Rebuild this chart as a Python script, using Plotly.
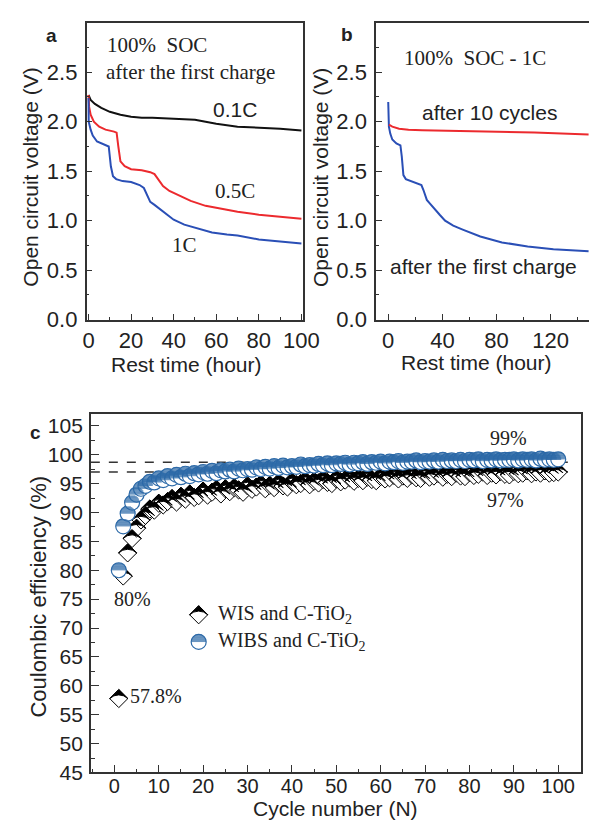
import math
import plotly.graph_objects as go

W, H = 598, 827

# ---------------- Panel a data (rest time in hours, OCV in V) ----------------
A_T_01C = [0, 1, 3, 6, 10, 15, 20, 25, 30, 40, 50, 55, 60, 70, 80, 90, 100]
A_V_01C = [2.27, 2.22, 2.18, 2.14, 2.10, 2.07, 2.05, 2.04, 2.04, 2.03, 2.02, 2.00, 1.98, 1.95, 1.94, 1.93, 1.91]

A_T_05C = [0, 0.3, 1, 2.5, 5, 8, 12, 13.2, 14, 15, 17, 20, 25, 29, 31, 33, 35, 38, 42, 48, 55, 62, 70, 80, 90, 100]
A_V_05C = [2.27, 2.15, 2.07, 2.00, 1.95, 1.92, 1.90, 1.89, 1.75, 1.60, 1.55, 1.52, 1.51, 1.49, 1.47, 1.41, 1.35,
           1.30, 1.26, 1.20, 1.15, 1.12, 1.09, 1.06, 1.04, 1.02]

A_T_1C = [0, 0.1, 1, 2, 4, 7, 9.5, 10.5, 11.5, 13, 16, 20, 24, 26, 27.5, 29, 31, 35, 40, 45, 50, 58, 65, 70, 80, 90, 100]
A_V_1C = [2.24, 2.00, 1.92, 1.86, 1.80, 1.77, 1.75, 1.55, 1.45, 1.42, 1.40, 1.39, 1.36, 1.33, 1.25, 1.19, 1.16,
          1.09, 1.01, 0.96, 0.93, 0.88, 0.86, 0.85, 0.81, 0.79, 0.77]

# ---------------- Panel b data ----------------
B_T_10CYC = [0.5, 3, 8, 15, 25, 60, 108, 148]
B_V_10CYC = [1.97, 1.95, 1.93, 1.92, 1.915, 1.905, 1.89, 1.87]

B_T_FIRST = [0, 0.5, 1.5, 3, 6, 9, 10, 11.2, 13, 17, 22, 24.5, 26, 28.5, 31, 34, 38, 42, 48, 55, 68, 84, 103, 122, 148]
B_V_FIRST = [2.20, 1.95, 1.88, 1.82, 1.78, 1.76, 1.65, 1.46, 1.42, 1.40, 1.38, 1.36, 1.31, 1.21, 1.17, 1.12, 1.06,
             1.00, 0.95, 0.91, 0.84, 0.78, 0.74, 0.71, 0.69]

# ---------------- Panel c data (coulombic efficiency, %) ----------------
CYCLES = list(range(1, 101))
CE_WIS = [57.8, 79.0, 83.0, 85.5, 87.3, 88.7, 89.5, 90.6, 90.4, 91.6,
          91.3, 91.9, 92.4, 91.8, 92.8, 92.3, 93.2, 92.6, 92.9, 93.7,
          93.0, 93.5, 94.0, 93.2, 94.1, 93.6, 94.3, 93.9, 93.5, 94.6,
          94.0, 94.4, 94.9, 94.1, 94.7, 94.3, 95.1, 94.6, 94.4, 95.3,
          94.8, 95.0, 95.5, 94.8, 95.4, 95.1, 95.7, 95.2, 95.0, 95.8,
          95.3, 95.6, 96.0, 95.4, 95.9, 95.5, 96.1, 95.7, 95.5, 96.2,
          95.8, 96.0, 96.4, 95.8, 96.3, 95.9, 96.5, 96.0, 95.9, 96.6,
          96.1, 96.3, 96.7, 96.1, 96.6, 96.2, 96.8, 96.3, 96.2, 96.9,
          96.4, 96.6, 97.0, 96.4, 96.8, 96.5, 97.1, 96.6, 96.5, 97.1,
          96.7, 96.8, 97.2, 96.7, 97.0, 96.8, 97.2, 96.8, 96.9, 97.0]
CE_WIBS = [80.0, 87.6, 89.8, 91.7, 93.1, 94.1, 94.6, 95.3, 95.2, 95.9,
           95.6, 96.3, 95.9, 96.5, 96.1, 96.7, 96.3, 96.8, 96.6, 97.0,
           96.7, 97.2, 96.8, 97.3, 97.1, 97.4, 97.1, 97.6, 97.3, 97.5,
           97.4, 97.8, 97.5, 97.9, 97.6, 98.0, 97.7, 98.1, 97.8, 98.0,
           97.9, 98.3, 98.0, 98.2, 98.1, 98.4, 98.2, 98.5, 98.2, 98.5,
           98.4, 98.6, 98.3, 98.6, 98.5, 98.7, 98.4, 98.7, 98.6, 98.8,
           98.5, 98.8, 98.7, 98.9, 98.6, 98.8, 98.8, 99.0, 98.7, 98.9,
           98.8, 99.0, 98.8, 99.1, 98.9, 99.0, 98.9, 99.1, 98.9, 99.1,
           99.0, 99.2, 98.9, 99.1, 99.0, 99.2, 99.0, 99.1, 99.1, 99.2,
           99.0, 99.2, 99.1, 99.2, 99.0, 99.3, 99.1, 99.2, 99.1, 99.2]
REF_LINES = [98.7, 97.0]  # dashed guide levels (%)

# ---------------- layout geometry (pixels) ----------------
def fx(px):
    return px / W

def fy(py):
    return 1 - py / H

A_X = [77.3, 301.7]
B_X = [377.3, 598.0]
AB_Y = [15.5, 316.6]
C_X = [81.7, 590.0]
C_Y = [412.7, 776.7]
C_YRANGE = [45, 107]

SANS = "Liberation Sans, Arial, Helvetica, sans-serif"
SERIF = "Liberation Serif, Times New Roman, serif"
FRAME = "#333333"
TXT = "#222222"
RED = "#ec2a2e"
BLUE_LINE = "#2a4fb6"
BLUE_MK = "#2d6aa8"

fig = go.Figure()

# ---- Panel a curves
fig.add_trace(go.Scatter(x=A_T_01C, y=A_V_01C, mode="lines", line=dict(color="#111111", width=2),
                         xaxis="x", yaxis="y", showlegend=False))
fig.add_trace(go.Scatter(x=A_T_05C, y=A_V_05C, mode="lines", line=dict(color=RED, width=2),
                         xaxis="x", yaxis="y", showlegend=False))
fig.add_trace(go.Scatter(x=A_T_1C, y=A_V_1C, mode="lines", line=dict(color=BLUE_LINE, width=2),
                         xaxis="x", yaxis="y", showlegend=False))
# ---- Panel b curves
fig.add_trace(go.Scatter(x=B_T_FIRST, y=B_V_FIRST, mode="lines", line=dict(color=BLUE_LINE, width=2),
                         xaxis="x2", yaxis="y2", showlegend=False))
fig.add_trace(go.Scatter(x=B_T_10CYC, y=B_V_10CYC, mode="lines", line=dict(color=RED, width=2),
                         xaxis="x2", yaxis="y2", showlegend=False))

# ---- Panel c : half-filled markers (open shape first, filled upper half on top)
PX_PER_UNIT_C = (C_Y[1] - C_Y[0]) / (C_YRANGE[1] - C_YRANGE[0])
DIAM_SIZE = 14
CIRC_SIZE = 15


def half_diamond_traces(xs, ys, size):
    rd = 0.65 * size                      # half-diagonal of plotly's diamond (px)
    tri_size = 1.41421 * rd               # arrow-wide whose 90deg head fills the top half
    shift = rd / PX_PER_UNIT_C            # head apex sits on the diamond's top vertex
    base = go.Scatter(x=list(xs), y=list(ys), mode="markers", xaxis="x3", yaxis="y3", showlegend=False,
                      hoverinfo="skip",
                      marker=dict(symbol="diamond", color="white", size=size,
                                  line=dict(color="black", width=1)))
    top = go.Scatter(x=list(xs), y=[v + shift for v in ys], mode="markers", xaxis="x3", yaxis="y3",
                     showlegend=False, hoverinfo="skip",
                     marker=dict(symbol="arrow-wide", color="black", size=tri_size,
                                 line=dict(color="black", width=1)))
    return [base, top]


def half_circle_traces(xs, ys, size, color):
    r = size / 2
    bands = [(0.0, 0.3), (0.3, 0.55), (0.55, 0.72), (0.72, 0.85), (0.85, 0.95)]
    base = go.Scatter(x=list(xs), y=list(ys), mode="markers", xaxis="x3", yaxis="y3", showlegend=False,
                      hoverinfo="skip",
                      marker=dict(symbol="circle", color="white", size=size,
                                  line=dict(color=color, width=1.2)))
    X, Y, lw, sz, so = [], [], [], [], []
    for x, y in zip(xs, ys):
        for b0, b1 in bands:
            bm = (b0 + b1) / 2
            half = r * math.sqrt(1 - bm * bm)
            X.append(x); Y.append(y)
            lw.append((b1 - b0) * r + 0.3)
            sz.append(2 * half / 1.4)
            so.append(bm * r)
    top = go.Scatter(x=X, y=Y, mode="markers", xaxis="x3", yaxis="y3", showlegend=False, hoverinfo="skip",
                     marker=dict(symbol="line-ew", color=color, size=sz, standoff=so, angle=180,
                                 line=dict(color=color, width=lw)))
    return [base, top]


for t in half_diamond_traces(CYCLES, CE_WIS, DIAM_SIZE):
    fig.add_trace(t)
for t in half_circle_traces(CYCLES, CE_WIBS, CIRC_SIZE, BLUE_MK):
    fig.add_trace(t)

# manual legend (position in axis units of panel c)
LEG_X = 19.0
LEG_Y = [72.3, 67.6]
for t in half_diamond_traces([LEG_X], [LEG_Y[0]], DIAM_SIZE):
    fig.add_trace(t)
for t in half_circle_traces([LEG_X], [LEG_Y[1]], CIRC_SIZE, BLUE_MK):
    fig.add_trace(t)

shapes = []
for lvl in REF_LINES:
    shapes.append(dict(type="line", xref="x3 domain", yref="y3", x0=0, x1=0.985, y0=lvl, y1=lvl,
                       line=dict(color="#333333", width=1.5, dash="dash"), layer="below"))

# ---------------- annotations ----------------
ann = []

def add_text(text, x, y, xref, yref, size, family, xanchor="center", yanchor="middle", angle=0, bold=False):
    t = f"<b>{text}</b>" if bold else text
    ann.append(dict(text=t, x=x, y=y, xref=xref, yref=yref, showarrow=False, textangle=angle,
                    font=dict(size=size, family=family, color=TXT), xanchor=xanchor, yanchor=yanchor))

# panel labels
add_text("a", fx(41), fy(28), "paper", "paper", 19, SANS, bold=True)
add_text("b", fx(347), fy(27), "paper", "paper", 19, SANS, bold=True)
add_text("c", fx(24), fy(431), "paper", "paper", 19, SANS, bold=True)

# axis titles
add_text("Open circuit voltage (V)", fx(19), fy(172), "paper", "paper", 21, SANS, angle=-90)
add_text("Rest time (hour)", fx(181), fy(362), "paper", "paper", 21, SANS)
add_text("Open circuit voltage (V)", fx(319), fy(172), "paper", "paper", 21, SANS, angle=-90)
add_text("Rest time (hour)", fx(481), fy(360), "paper", "paper", 21, SANS)
add_text("Coulombic efficiency (%)", fx(28), fy(598), "paper", "paper", 22, SANS, angle=-90)
add_text("Cycle number (N)", fx(335), fy(813), "paper", "paper", 21, SANS)

# panel a texts
add_text("100%&nbsp;&nbsp;SOC", fx(96), fy(38), "paper", "paper", 21, SERIF, xanchor="left")
add_text("after the first charge", fx(95), fy(65), "paper", "paper", 21, SERIF, xanchor="left")
add_text("0.1C", 69, 2.125, "x", "y", 21, SANS)
add_text("0.5C", 69, 1.30, "x", "y", 21, SERIF)
add_text("1C", 45, 0.75, "x", "y", 21, SERIF)
# panel b texts
add_text("100%&nbsp;&nbsp;SOC - 1C", 64, 2.64, "x2", "y2", 21, SERIF)
add_text("after 10 cycles", 75, 2.09, "x2", "y2", 21, SANS)
add_text("after the first charge", 70, 0.535, "x2", "y2", 21, SANS)
# panel c texts
add_text("80%", 4.1, 75.1, "x3", "y3", 20, SERIF)
add_text("57.8%", 3.0, 58.3, "x3", "y3", 20, SERIF, xanchor="left")
add_text("99%", 88.9, 102.9, "x3", "y3", 20, SERIF)
add_text("97%", 88.2, 92.1, "x3", "y3", 20, SERIF)
add_text("WIS and C-TiO<sub>2</sub>", 23.0, LEG_Y[0], "x3", "y3", 20, SERIF, xanchor="left")
add_text("WIBS and C-TiO<sub>2</sub>", 23.0, LEG_Y[1], "x3", "y3", 20, SERIF, xanchor="left")

# ---------------- axes ----------------
def axis(domain, rng, dtick, minor_dtick, anchor, mirror=True, ticklen=6, fmt=None, size=21, standoff=0):
    d = dict(domain=domain, range=rng, tickmode="linear", tick0=0, dtick=dtick, ticks="inside",
             ticklen=ticklen, tickwidth=1.3, tickcolor=FRAME, showline=True, linecolor=FRAME,
             linewidth=1.5, mirror=mirror, showgrid=False, zeroline=False, anchor=anchor,
             ticklabelstandoff=standoff,
             tickfont=dict(family=SANS, size=size, color=TXT),
             minor=dict(ticks="inside", ticklen=ticklen / 2, tickwidth=1.2, tickcolor=FRAME,
                        tick0=0, dtick=minor_dtick, showgrid=False))
    if fmt:
        d["tickformat"] = fmt
    return d

fig.update_layout(
    width=W, height=H, margin=dict(l=0, r=0, t=0, b=0),
    paper_bgcolor="white", plot_bgcolor="white",
    xaxis=axis([fx(A_X[0]), fx(A_X[1])], [-0.9, 100.8], 20, 10, "y", size=22),
    yaxis=axis([fy(AB_Y[1]), fy(AB_Y[0])], [0, 2.995], 0.5, 0.25, "x", fmt=".1f", standoff=3, size=22),
    xaxis2=axis([fx(B_X[0]), 1.0], [-9, 148.3], 40, 20, "y2", size=22),
    yaxis2=axis([fy(AB_Y[1]), fy(AB_Y[0])], [0, 2.995], 0.5, 0.25, "x2", mirror=False, fmt=".1f",
                standoff=3, size=22),
    xaxis3=axis([fx(C_X[0]), fx(C_X[1])], [-5.3, 105.2], 10, 5, "y3", ticklen=8, standoff=-5, size=20),
    yaxis3=axis([fy(C_Y[1]), fy(C_Y[0])], C_YRANGE, 5, 2.5, "x3", ticklen=8, standoff=2),
    annotations=ann,
    shapes=shapes,
)

fig.write_html("out.html")
